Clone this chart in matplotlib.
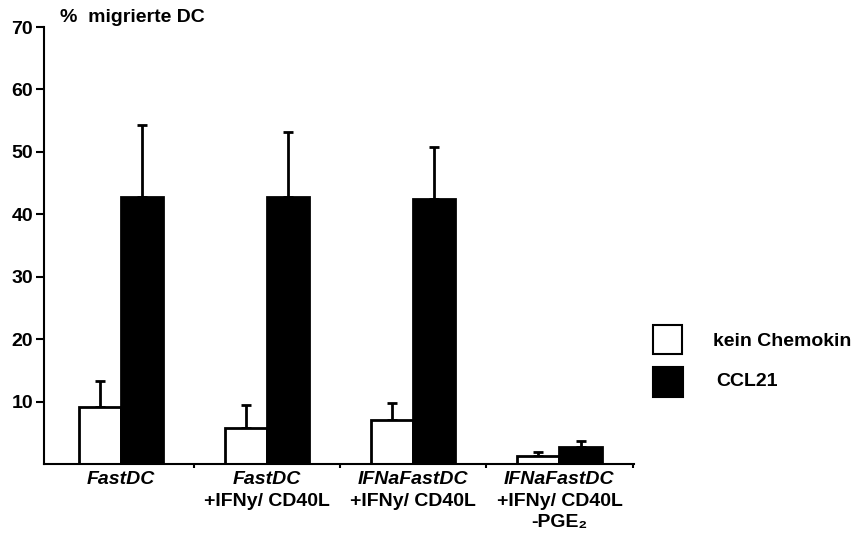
import matplotlib
matplotlib.use("Agg")
import matplotlib.pyplot as plt
from matplotlib.patches import Rectangle
import numpy as np

plt.rcParams['font.family'] = ['Liberation Sans', 'DejaVu Sans']
plt.rcParams['font.weight'] = 'bold'

groups_line1 = ["FastDC", "FastDC", "IFNaFastDC", "IFNaFastDC"]
groups_line2 = ["", "+IFNy/ CD40L", "+IFNy/ CD40L", "+IFNy/ CD40L"]
groups_line3 = ["", "", "", "-PGE₂"]
series_names = ["kein Chemokin", "CCL21"]
kein_vals = [9.1, 5.8, 7.1, 1.3]
kein_err = [4.2, 3.7, 2.7, 0.6]
ccl21_vals = [42.8, 42.7, 42.4, 2.7]
ccl21_err = [11.5, 10.5, 8.4, 1.0]
yticks = [10, 20, 30, 40, 50, 60, 70]

fig = plt.figure(figsize=(8.56, 5.36), dpi=100)
ax = fig.add_axes([44/856, 1-464/536, (634-44)/856, (464-27)/536])

x = np.arange(len(kein_vals))
w = 0.288
lw = 2.0
ax.bar(x - w/2, kein_vals, w, color='white', edgecolor='black', linewidth=lw, zorder=2)
ax.bar(x + w/2, ccl21_vals, w, color='black', edgecolor='black', linewidth=lw, zorder=2)
ax.errorbar(x - w/2, kein_vals, yerr=[np.zeros(4), kein_err], fmt='none', ecolor='black',
            elinewidth=2, capsize=3.5, capthick=2, zorder=1)
ax.errorbar(x + w/2, ccl21_vals, yerr=[np.zeros(4), ccl21_err], fmt='none', ecolor='black',
            elinewidth=2, capsize=3.5, capthick=2, zorder=1)

ax.set_xlim(-0.527, 3.51)
ax.set_ylim(0, 70)
ax.set_yticks(yticks)
ax.set_yticklabels([str(t) for t in yticks], fontsize=14, fontweight='bold')
ax.set_xticks([0.5, 1.5, 2.5, 3.5])
ax.set_xticklabels([])
ax.tick_params(axis='y', direction='out', length=6, width=1.5, pad=2)
ax.tick_params(axis='x', direction='out', length=3, width=1.5)
for s in ['top', 'right']:
    ax.spines[s].set_visible(False)
for s in ['left', 'bottom']:
    ax.spines[s].set_linewidth(1.5)

trans = ax.get_xaxis_transform()
axh = 464 - 27
for i in range(len(x)):
    ax.text(x[i], -(480-464)/axh, groups_line1[i], transform=trans, ha='center', va='center',
            fontsize=14, fontweight='bold', style='italic')
    if groups_line2[i]:
        ax.text(x[i], -(501-464)/axh, groups_line2[i], transform=trans, ha='center', va='center',
                fontsize=14, fontweight='bold')
    if groups_line3[i]:
        ax.text(x[i], -(522-464)/axh, groups_line3[i], transform=trans, ha='center', va='center',
                fontsize=14, fontweight='bold')

fig.text(60/856, 1-18/536, "%  migrierte DC", ha='left', va='center', fontsize=14, fontweight='bold')

# legend
fig.patches.append(Rectangle((653/856, 1-354/536), 29/856, 29/536, transform=fig.transFigure,
                             facecolor='white', edgecolor='black', linewidth=1.5))
fig.patches.append(Rectangle((653/856, 1-397/536), 30/856, 30/536, transform=fig.transFigure,
                             facecolor='black', edgecolor='black', linewidth=1.5))
fig.text(713/856, 1-341/536, series_names[0], ha='left', va='center', fontsize=14, fontweight='bold')
fig.text(716/856, 1-382/536, series_names[1], ha='left', va='center', fontsize=14, fontweight='bold')

fig.savefig("out.png", dpi=100)
